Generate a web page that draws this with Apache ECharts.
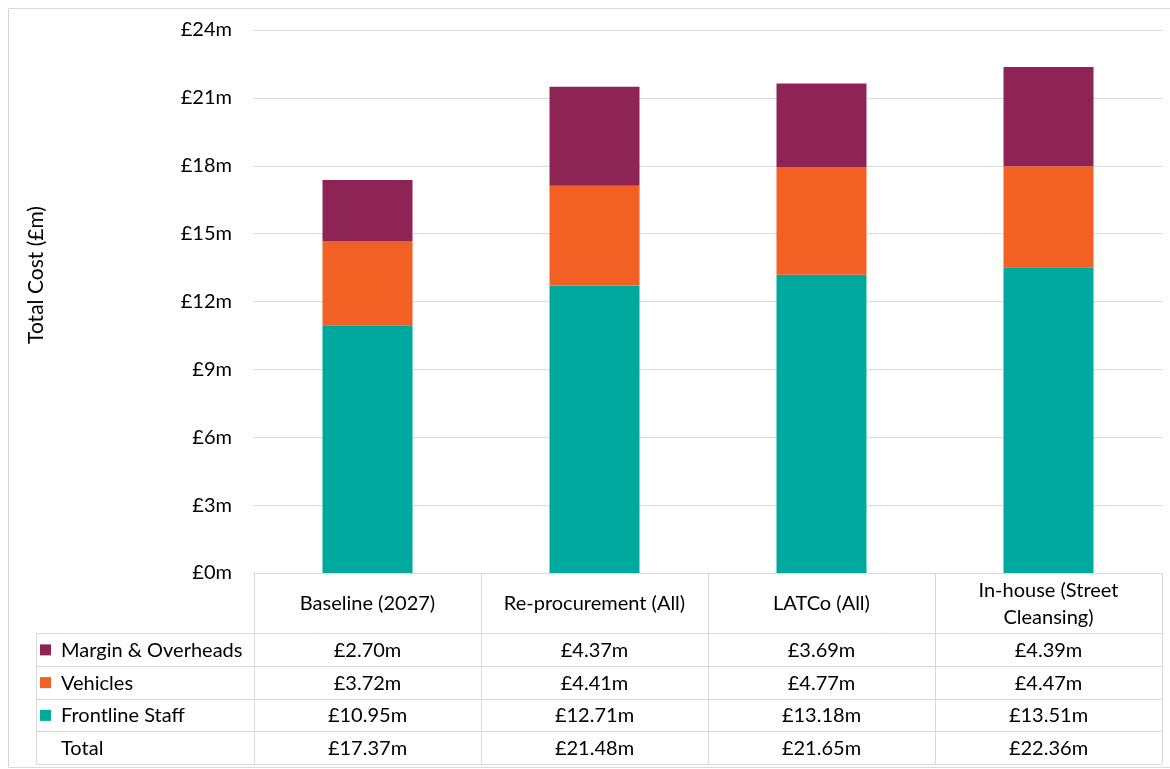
<!DOCTYPE html>
<html><head><meta charset="utf-8">
<script src="https://cdn.jsdelivr.net/npm/echarts@6/dist/echarts.min.js"></script>
<style>html,body{margin:0;padding:0;background:#fff}#c{width:1170px;height:769px}</style>
</head><body><div id="c"></div>
<script>
var categories = ['Baseline (2027)', 'Re-procurement (All)', 'LATCo (All)', 'In-house (Street\nCleansing)'];
var frontlineStaff = [10.95, 12.71, 13.18, 13.51];
var vehicles = [3.72, 4.41, 4.77, 4.47];
var marginOverheads = [2.70, 4.37, 3.69, 4.39];
var totals = [17.37, 21.48, 21.65, 22.36];
var yTicks = [0, 3, 6, 9, 12, 15, 18, 21, 24];

var colors = {staff: '#00A99D', veh: '#F26024', margin: '#8E2454'};
var FONT = 'Lato, "Open Sans", sans-serif';
var FS = 20;
var chart = echarts.init(document.getElementById('c'));
var G = {left: 254, right: 8, top: 30, bottom: 196};

var option = {
  animation: false,
  backgroundColor: '#fff',
  grid: {left: G.left, right: G.right, top: G.top, bottom: G.bottom, containLabel: false},
  xAxis: {type: 'category', data: categories, axisLabel: {show: false}, axisTick: {show: false},
    axisLine: {show: true, lineStyle: {color: '#d9d9d9'}}},
  yAxis: {type: 'value', min: 0, max: 24, interval: 3,
    axisLabel: {formatter: function (v) { return '£' + v + 'm'; }, fontFamily: FONT, fontSize: FS, color: '#000', margin: 22},
    splitLine: {lineStyle: {color: '#d9d9d9', width: 1}}, axisLine: {show: false}, axisTick: {show: false}},
  series: [
    {name: 'Frontline Staff', type: 'bar', stack: 's', data: frontlineStaff, barWidth: 90, itemStyle: {color: colors.staff}},
    {name: 'Vehicles', type: 'bar', stack: 's', data: vehicles, barWidth: 90, itemStyle: {color: colors.veh}},
    {name: 'Margin & Overheads', type: 'bar', stack: 's', data: marginOverheads, barWidth: 90, itemStyle: {color: colors.margin}}
  ]
};
chart.setOption(option);

function fmt(v) { return '£' + v.toFixed(2) + 'm'; }
var rows = [
  {label: 'Margin & Overheads', color: colors.margin, vals: marginOverheads},
  {label: 'Vehicles', color: colors.veh, vals: vehicles},
  {label: 'Frontline Staff', color: colors.staff, vals: frontlineStaff},
  {label: 'Total', color: null, vals: totals}
];
var lineC = '#d9d9d9';
var W = 1170, H = 769;
var xL = G.left, xR = W - G.right, y0 = H - G.bottom;
var headerBottom = 633, rowH = 32.75, tableLeft = 36;
var els = [];
els.push({type: 'rect', shape: {x: 8.5, y: 8.5, width: 1170, height: 759}, style: {fill: 'none', stroke: lineC, lineWidth: 1}, silent: true});
els.push({type: 'text', x: 36, y: 275, rotation: Math.PI / 2, style: {text: 'Total Cost (£m)', font: '21px ' + FONT, fill: '#000', align: 'center', verticalAlign: 'middle'}});
var n = categories.length, colW = (xR - xL) / n;
for (var i = 0; i <= n; i++) {
  var x = Math.round(xL + i * colW) + 0.5;
  els.push({type: 'line', shape: {x1: x, y1: y0, x2: x, y2: headerBottom + rowH * 4}, style: {stroke: lineC, lineWidth: 1}});
}
els.push({type: 'line', shape: {x1: tableLeft + 0.5, y1: headerBottom, x2: tableLeft + 0.5, y2: headerBottom + rowH * 4}, style: {stroke: lineC, lineWidth: 1}});
for (var r = 0; r <= 4; r++) {
  var y = Math.round(headerBottom + r * rowH) + 0.5;
  els.push({type: 'line', shape: {x1: tableLeft, y1: y, x2: xR, y2: y}, style: {stroke: lineC, lineWidth: 1}});
}
categories.forEach(function (c, i) {
  var cx = chart.convertToPixel({xAxisIndex: 0}, i);
  els.push({type: 'text', x: cx, y: (y0 + headerBottom) / 2 + 1, style: {text: c, font: FS + 'px ' + FONT, fill: '#000', align: 'center', verticalAlign: 'middle', lineHeight: 27}});
});
rows.forEach(function (row, r) {
  var cy = headerBottom + r * rowH + rowH / 2 + 1;
  if (row.color) {
    els.push({type: 'rect', shape: {x: 40, y: cy - 6, width: 11, height: 11}, style: {fill: row.color}});
  }
  els.push({type: 'text', x: 61, y: cy, style: {text: row.label, font: FS + 'px ' + FONT, fill: '#000', align: 'left', verticalAlign: 'middle'}});
  row.vals.forEach(function (v, i) {
    var cx = chart.convertToPixel({xAxisIndex: 0}, i);
    els.push({type: 'text', x: cx, y: cy, style: {text: fmt(v), font: FS + 'px ' + FONT, fill: '#000', align: 'center', verticalAlign: 'middle'}});
  });
});
chart.setOption({graphic: {elements: els}});
</script></body></html>
